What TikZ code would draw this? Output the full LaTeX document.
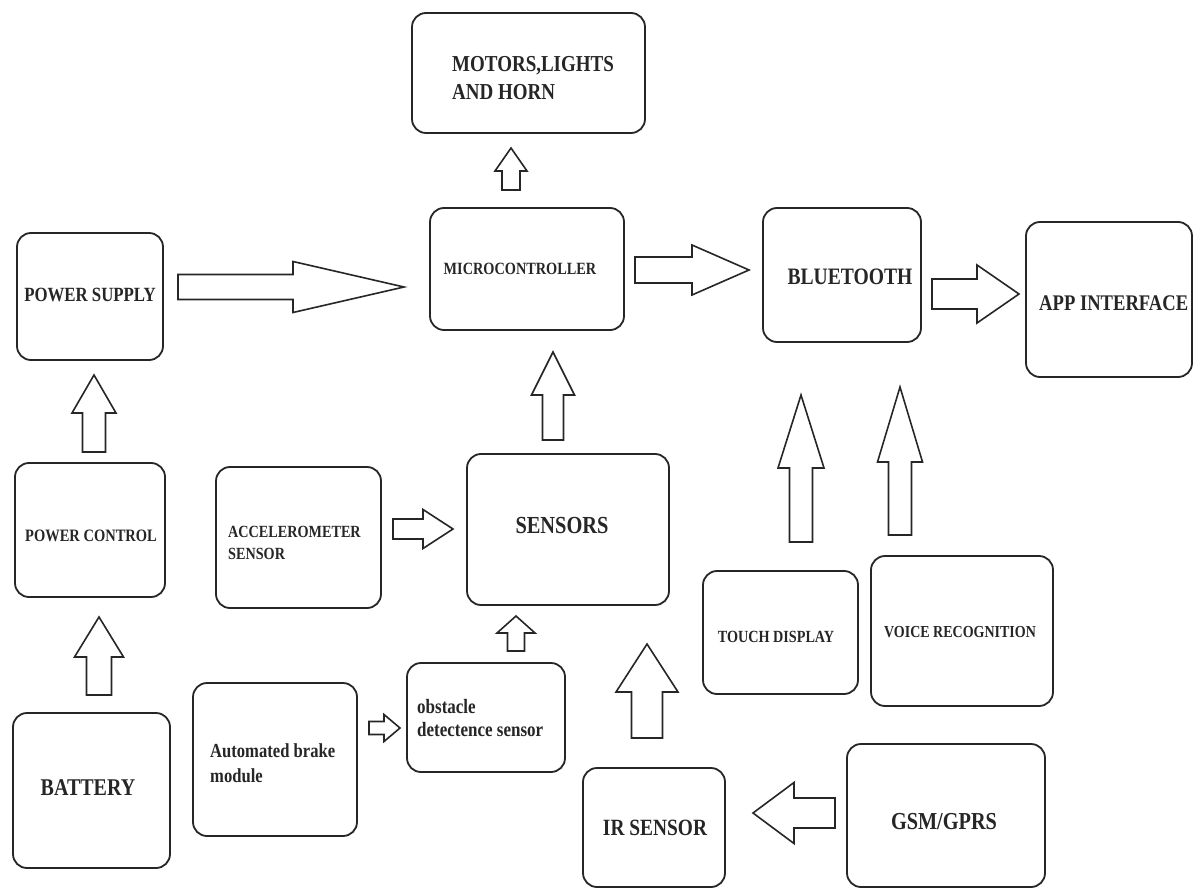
\documentclass[tikz,border=0pt]{standalone}
\usepackage{fontspec}
\usepackage{graphicx}
\setmainfont{Liberation Serif}
\newcommand\tx[2]{\fontsize{#1}{#1}\selectfont\scalebox{1}[1.2]{#2}}
\newcommand\mkbox[5]{\node[box, minimum width={(#4)-(#2)}, minimum height={(#5)-(#3)}] (#1) at ({((#2)+(#4))/2},{((#3)+(#5))/2}) {};}
% vertical block arrow: xc, tip, headbase, bottom, headhalf, shafthalf
\newcommand\myup[6]{\draw[barrow] (#1-#6,#4) -- (#1-#6,#3) -- (#1-#5,#3) -- (#1,#2) -- (#1+#5,#3) -- (#1+#6,#3) -- (#1+#6,#4) -- cycle;}
% horizontal block arrow: xs, xb, xt, yc, shafthalf, headhalf
\newcommand\myhor[6]{\draw[barrow] (#1,#4-#5) -- (#2,#4-#5) -- (#2,#4-#6) -- (#3,#4) -- (#2,#4+#6) -- (#2,#4+#5) -- (#1,#4+#5) -- cycle;}
\begin{document}
\begin{tikzpicture}[x=1pt,y=-1pt,
  box/.style={draw=black!85, line width=1.8pt, rounded corners=14pt, inner sep=0pt, fill=white},
  barrow/.style={draw=black!85, line width=1.6pt, fill=white, line join=miter},
  lbl/.style={inner sep=0pt, text=black!85, font=\bfseries}]
\useasboundingbox[fill=white] (0,0) rectangle (1193,890);
% boxes
\mkbox{motors}{412}{13}{645}{133}
\mkbox{micro}{430}{208}{624}{330}
\mkbox{bt}{763}{208}{921}{342}
\mkbox{app}{1026}{222}{1192}{377}
\mkbox{ps}{17}{233}{163}{360}
\mkbox{pc}{15}{463}{165}{597}
\mkbox{accel}{216}{467}{381}{608}
\mkbox{sensors}{467}{454}{669}{605}
\mkbox{obst}{407}{663}{565}{772}
\mkbox{brake}{193}{683}{357}{836}
\mkbox{batt}{13}{713}{170}{868}
\mkbox{touch}{703}{571}{858}{694}
\mkbox{voice}{871}{556}{1053}{706}
\mkbox{ir}{583}{768}{725}{887}
\mkbox{gsm}{847}{744}{1045}{887}
% texts
\node[lbl, anchor=base west] (t-mot1) at (452,72) {\tx{19}{MOTORS,LIGHTS}};
\node[lbl, anchor=base west] (t-mot2) at (452,100) {\tx{19}{AND HORN}};
\node[lbl] (t-mic) at (520,269) {\tx{14.3}{MICROCONTROLLER}};
\node[lbl] (t-bt) at (850,277) {\tx{19.6}{BLUETOOTH}};
\node[lbl, anchor=west] (t-app) at (1039,303) {\tx{18.6}{APP INTERFACE}};
\node[lbl] (t-ps) at (90,295) {\tx{16.8}{POWER SUPPLY}};
\node[lbl] (t-pc) at (91,536) {\tx{14.5}{POWER CONTROL}};
\node[lbl, anchor=base west] (t-acc1) at (228,537) {\tx{14.2}{ACCELEROMETER}};
\node[lbl, anchor=base west] (t-acc2) at (228,559) {\tx{14.2}{SENSOR}};
\node[lbl] (t-sen) at (562,526) {\tx{20.4}{SENSORS}};
\node[lbl, anchor=base west] (t-obs1) at (417,713) {\tx{17}{obstacle}};
\node[lbl, anchor=base west] (t-obs2) at (417,736) {\tx{17}{detectence sensor}};
\node[lbl, anchor=base west] (t-brk1) at (210,757) {\tx{16.6}{Automated brake}};
\node[lbl, anchor=base west] (t-brk2) at (210,782) {\tx{16.6}{module}};
\node[lbl] (t-bat) at (88,788) {\tx{20}{BATTERY}};
\node[lbl] (t-tch) at (776,637) {\tx{14.2}{TOUCH DISPLAY}};
\node[lbl] (t-voi) at (960,632) {\tx{14}{VOICE RECOGNITION}};
\node[lbl] (t-ir) at (655,828) {\tx{19.4}{IR SENSOR}};
\node[lbl] (t-gsm) at (944,822) {\tx{20.3}{GSM/GPRS}};
% block arrows
\myup{511}{148}{171}{190}{16}{9}
\myhor{178}{293}{404}{287}{12.5}{25.5}
\myhor{635}{692}{749}{270}{13}{25}
\myhor{932}{977}{1019}{294}{15}{29}
\myup{94}{375}{413}{452}{22}{11.5}
\myup{99}{617}{657}{695}{24.5}{12.5}
\myup{553}{352}{395}{440}{21.5}{10.5}
\myhor{393}{423}{453}{529}{10}{19.5}
\myup{516}{616}{633}{651}{19}{8.5}
\myhor{369}{384}{400}{728}{6.5}{13.5}
\myup{647}{644}{692}{738}{31}{15.5}
\myup{801}{395}{468}{542}{23}{11.5}
\myup{900}{387}{462}{535}{22.5}{11.5}
\myhor{835}{794}{753}{813}{15}{30.5}
\end{tikzpicture}
\end{document}
